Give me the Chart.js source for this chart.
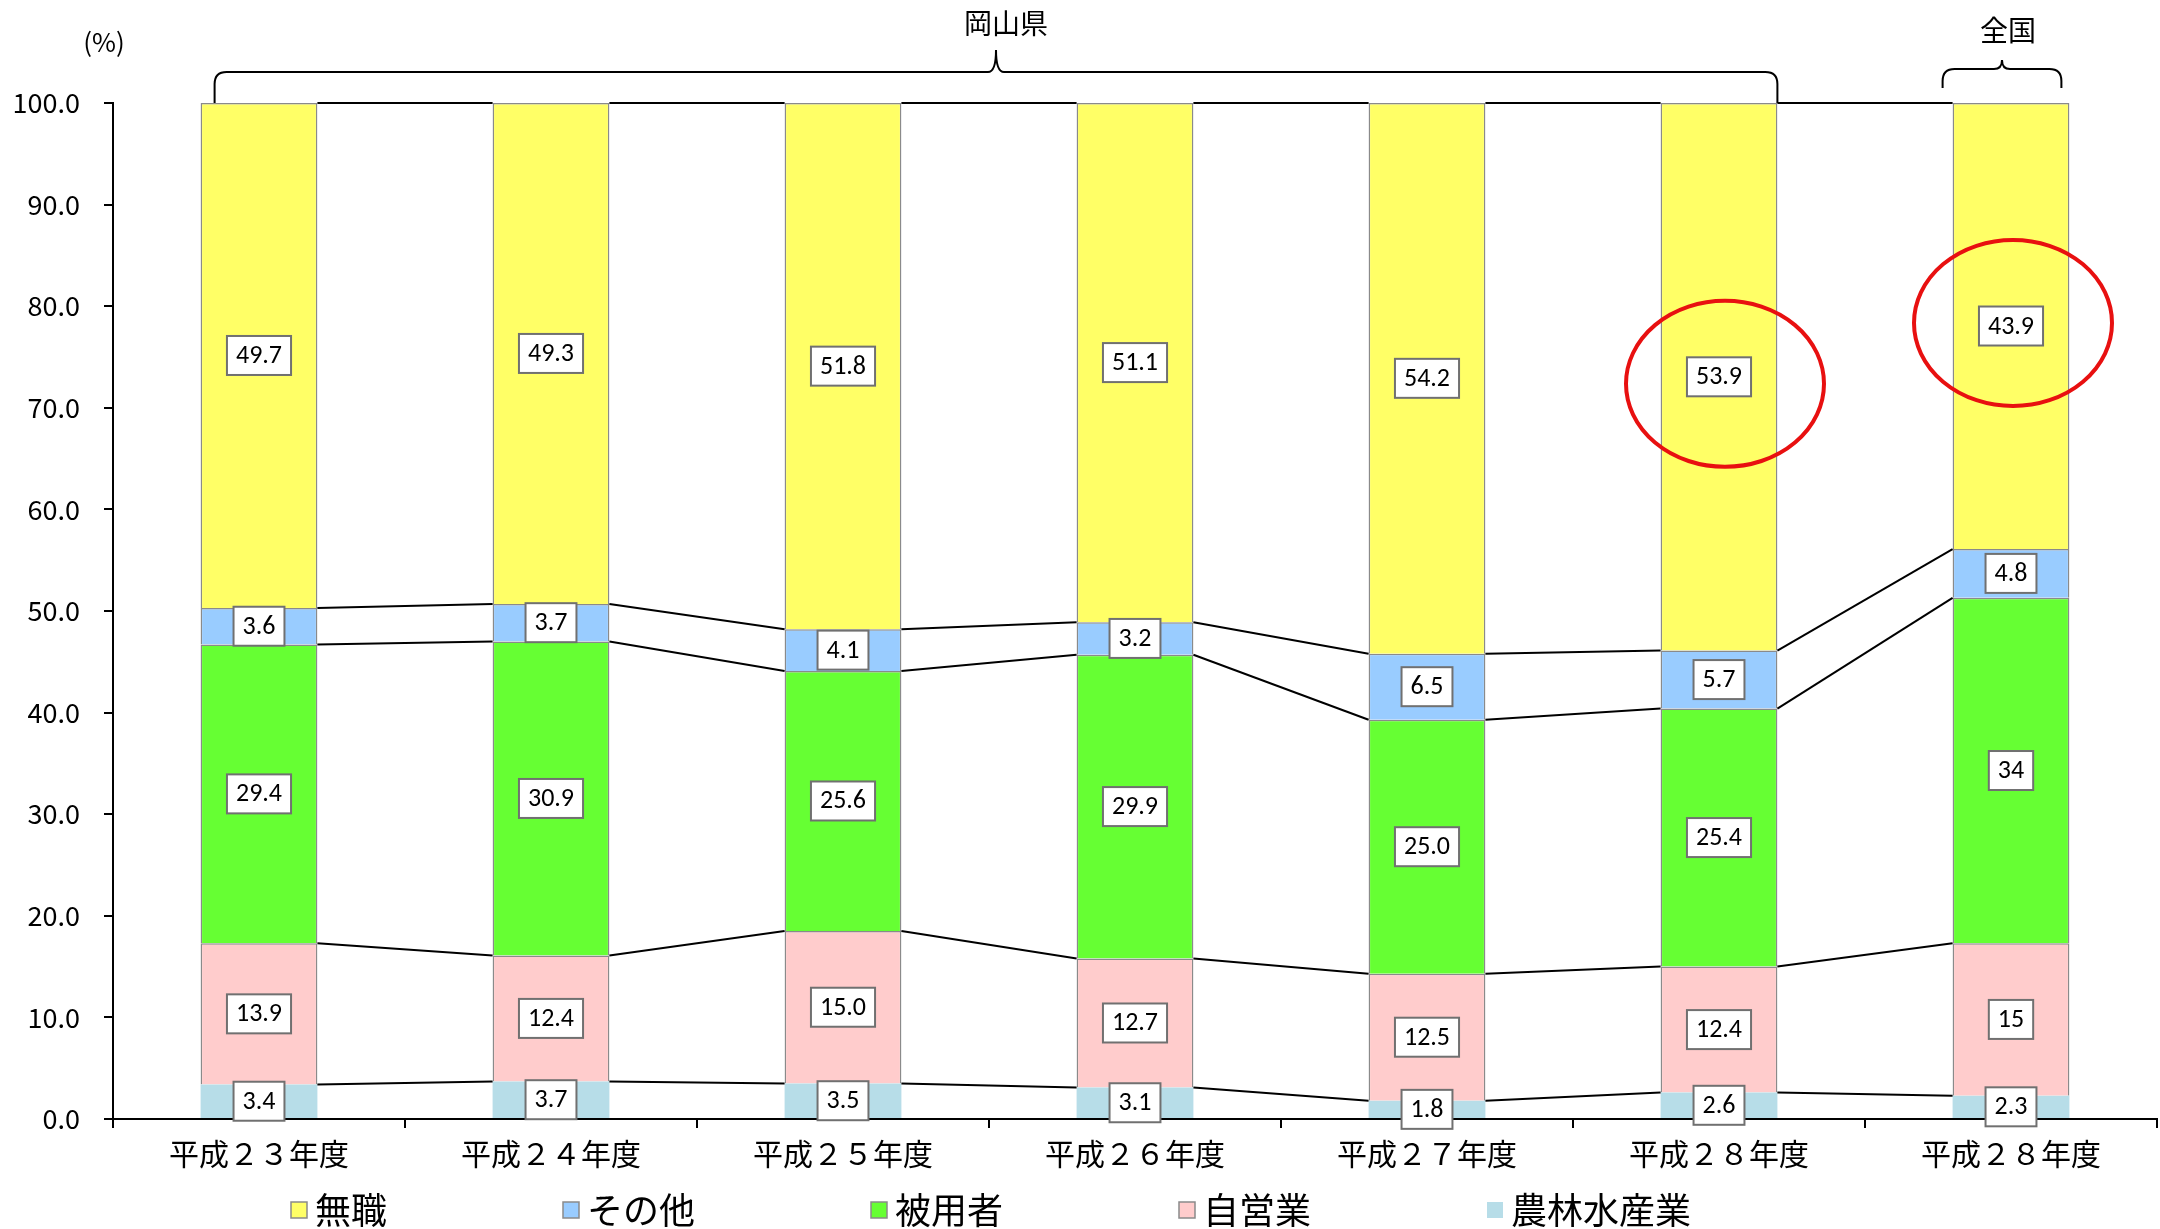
<!DOCTYPE html>
<html>
<head>
<meta charset="utf-8">
<script src="https://cdn.jsdelivr.net/npm/chart.js@4"></script>
<style>
html, body { margin: 0; padding: 0; background: #fff; }
#wrap { width: 2160px; height: 1229px; }
</style>
</head>
<body>
<div id="wrap"><canvas id="barChart" width="2160" height="1229"></canvas></div>
<script>
var categories = ['平成２３年度','平成２４年度','平成２５年度','平成２６年度','平成２７年度','平成２８年度','平成２８年度'];

// stacked bottom -> top
var agriData     = [3.4, 3.7, 3.5, 3.1, 1.8, 2.6, 2.3];        // 農林水産業
var selfEmpData  = [13.9, 12.4, 15.0, 12.7, 12.5, 12.4, 15];   // 自営業
var employedData = [29.4, 30.9, 25.6, 29.9, 25.0, 25.4, 34];   // 被用者
var otherData    = [3.6, 3.7, 4.1, 3.2, 6.5, 5.7, 4.8];        // その他
var noJobData    = [49.7, 49.3, 51.8, 51.1, 54.2, 53.9, 43.9]; // 無職

// decimals shown in the value boxes (null = as typed)
var labelDecimals = [1, 1, 1, 1, 1, 1, null];

var groupNames = ['岡山県', '全国'];
var groupFirst = [0, 6];
var groupLast  = [5, 6];
var circled = [5, 6]; // 無職 labels ringed in red
var ringShift = [[6, 7], [2, -3]];

var legendOrder = ['無職','その他','被用者','自営業','農林水産業'];

var jpFont = '"Noto Sans CJK JP", "Noto Sans", sans-serif';

function fmt(v, i) {
  return labelDecimals[i] === null ? String(v) : v.toFixed(labelDecimals[i]);
}

var seriesLines = {
  id: 'seriesLines',
  afterDatasetsDraw: function(chart) {
    var ctx = chart.ctx;
    ctx.save();
    ctx.strokeStyle = '#000';
    ctx.lineWidth = 2;
    chart.data.datasets.forEach(function(ds, di) {
      var bars = chart.getDatasetMeta(di).data;
      for (var i = 0; i < bars.length - 1; i++) {
        var a = bars[i], b = bars[i + 1];
        ctx.beginPath();
        ctx.moveTo(a.x + a.width / 2, a.y);
        ctx.lineTo(b.x - b.width / 2, b.y);
        ctx.stroke();
      }
    });
    ctx.restore();
  }
};

var valueBoxes = {
  id: 'valueBoxes',
  afterDatasetsDraw: function(chart) {
    var ctx = chart.ctx;
    ctx.save();
    ctx.font = '26px Carlito, Lato, sans-serif';
    ctx.textAlign = 'center';
    ctx.textBaseline = 'middle';
    chart.data.datasets.forEach(function(ds, di) {
      chart.getDatasetMeta(di).data.forEach(function(el, i) {
        var txt = fmt(ds.data[i], i);
        var w = ctx.measureText(txt).width + 18;
        var h = 39;
        var cy = (el.y + el.base) / 2;
        ctx.fillStyle = '#fff';
        ctx.fillRect(el.x - w / 2, cy - h / 2, w, h);
        ctx.strokeStyle = '#707070';
        ctx.lineWidth = 2;
        ctx.strokeRect(el.x - w / 2, cy - h / 2, w, h);
        ctx.fillStyle = '#000';
        ctx.fillText(txt, el.x, cy + 1);
      });
    });

    // red rings
    var top = chart.data.datasets.length - 1;
    var bars = chart.getDatasetMeta(top).data;
    ctx.strokeStyle = '#e81010';
    ctx.lineWidth = 4;
    circled.forEach(function(i, k) {
      var el = bars[i];
      var cy = (el.y + el.base) / 2;
      ctx.beginPath();
      ctx.ellipse(el.x + ringShift[k][0], cy + ringShift[k][1], 99, 83, 0, 0, Math.PI * 2);
      ctx.stroke();
    });
    ctx.restore();
  }
};

function brace(ctx, x1, x2, yTop, yEnd, yPeak, xm) {
  var r = 12;
  ctx.beginPath();
  ctx.moveTo(x1, yEnd);
  ctx.lineTo(x1, yTop + r);
  ctx.quadraticCurveTo(x1, yTop, x1 + r, yTop);
  ctx.lineTo(xm - 8, yTop);
  ctx.quadraticCurveTo(xm, yTop, xm, yPeak);
  ctx.quadraticCurveTo(xm, yTop, xm + 8, yTop);
  ctx.lineTo(x2 - r, yTop);
  ctx.quadraticCurveTo(x2, yTop, x2, yTop + r);
  ctx.lineTo(x2, yEnd);
  ctx.stroke();
}

var extras = {
  id: 'extras',
  afterDraw: function(chart) {
    var ctx = chart.ctx;
    var bars = chart.getDatasetMeta(0).data;
    var y100 = chart.scales.y.getPixelForValue(100);
    ctx.save();
    ctx.fillStyle = '#000';
    ctx.strokeStyle = '#000';
    ctx.lineWidth = 2;
    ctx.textAlign = 'center';
    ctx.textBaseline = 'middle';

    ctx.font = '26px ' + jpFont;
    ctx.fillText('(%)', 104, 42);

    // 岡山県
    var a = bars[groupFirst[0]], b = bars[groupLast[0]];
    var x1 = a.x - a.width / 2 + 14, x2 = b.x + b.width / 2;
    var xm = (x1 + x2) / 2;
    brace(ctx, x1, x2, 72, y100, 50, xm);
    ctx.font = '28px ' + jpFont;
    ctx.fillText(groupNames[0], xm + 10, 23);

    // 全国
    var c = bars[groupFirst[1]];
    var x3 = c.x - c.width / 2 - 10, x4 = c.x + c.width / 2 - 8;
    var xm2 = (x3 + x4) / 2;
    brace(ctx, x3, x4, 69, 88, 60, xm2);
    ctx.fillText(groupNames[1], xm2 + 6, 30);

    // legend
    ctx.font = '36px ' + jpFont;
    ctx.textAlign = 'left';
    var x = 291, ly = 1210;
    legendOrder.forEach(function(name) {
      var ds = chart.data.datasets.find(function(d) { return d.label === name; });
      ctx.fillStyle = ds.backgroundColor;
      ctx.fillRect(x, ly - 8, 16, 16);
      if (ds.borderWidth > 0) {
        ctx.strokeStyle = '#8a8a8a';
        ctx.lineWidth = 1.5;
        ctx.strokeRect(x, ly - 8, 16, 16);
      }
      ctx.fillStyle = '#000';
      ctx.fillText(name, x + 24, ly);
      x += 16 + 8 + ctx.measureText(name).width + 176;
    });
    ctx.restore();
  }
};

var ctx1 = document.getElementById('barChart');

var myChart = new Chart(ctx1, {
  type: 'bar',
  data: {
    labels: categories,
    datasets: [
      { label: '農林水産業', data: agriData, backgroundColor: '#b7dde8', borderWidth: 0 },
      { label: '自営業', data: selfEmpData, backgroundColor: '#ffcccc', borderColor: '#8a8a8a', borderWidth: 1.5 },
      { label: '被用者', data: employedData, backgroundColor: '#66ff33', borderColor: '#8a8a8a', borderWidth: 1.5 },
      { label: 'その他', data: otherData, backgroundColor: '#99ccff', borderColor: '#8a8a8a', borderWidth: 1.5 },
      { label: '無職', data: noJobData, backgroundColor: '#ffff66', borderColor: '#8a8a8a', borderWidth: 1.5 }
    ]
  },
  options: {
    responsive: false,
    animation: false,
    devicePixelRatio: 1,
    barPercentage: 0.4,
    categoryPercentage: 1,
    layout: { padding: { top: 103, right: 3, bottom: 60, left: 0 } },
    plugins: {
      legend: { display: false },
      tooltip: { enabled: false }
    },
    scales: {
      x: {
        stacked: true,
        afterFit: function(scale) { scale.height = 50; },
        grid: { offset: true, drawOnChartArea: false, color: '#000', lineWidth: 2, tickLength: 9 },
        border: { color: '#000', width: 2 },
        ticks: { color: '#000', padding: 8, maxRotation: 0, autoSkip: false, font: { family: jpFont, size: 30 } }
      },
      y: {
        stacked: true,
        min: 0,
        max: 100,
        afterFit: function(scale) { scale.width = 113; },
        grid: { drawOnChartArea: false, color: '#000', lineWidth: 2, tickLength: 9 },
        border: { color: '#000', width: 2 },
        ticks: {
          stepSize: 10,
          color: '#000',
          padding: 24,
          font: { family: jpFont, size: 27 },
          callback: function(v) { return v.toFixed(1); }
        }
      }
    }
  },
  plugins: [seriesLines, valueBoxes, extras]
});
</script>
</body>
</html>
